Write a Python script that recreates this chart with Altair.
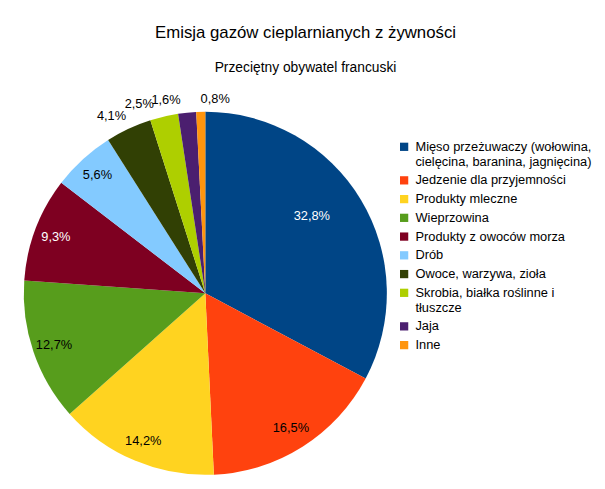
import altair as alt
import pandas as pd

categories = [
    "Mięso przeżuwaczy (wołowina,\ncielęcina, baranina, jagnięcina)",
    "Jedzenie dla przyjemności",
    "Produkty mleczne",
    "Wieprzowina",
    "Produkty z owoców morza",
    "Drób",
    "Owoce, warzywa, zioła",
    "Skrobia, białka roślinne i\ntłuszcze",
    "Jaja",
    "Inne",
]
values = [32.8, 16.5, 14.2, 12.7, 9.3, 5.6, 4.1, 2.5, 1.6, 0.8]
colors = ["#004586", "#ff420e", "#ffd320", "#579d1c", "#7e0021",
          "#83caff", "#314004", "#aecf00", "#4b1f6f", "#ff950e"]

df = pd.DataFrame({
    "cat": categories,
    "value": values,
    "idx": list(range(len(values))),
    "label": [f"{v:.1f}%".replace(".", ",") for v in values],
})

FONT = "Liberation Sans"

base = alt.Chart(df).encode(
    theta=alt.Theta("value:Q", stack=True),
    order=alt.Order("idx:Q", sort="ascending"),
)

pie = base.mark_arc(stroke=None).encode(
    color=alt.Color(
        "cat:N",
        sort=categories,
        scale=alt.Scale(domain=categories, range=colors),
        legend=alt.Legend(
            title=None,
            orient="none",
            legendX=379,
            legendY=29,
            symbolType="square",
            symbolSize=70,
            symbolStrokeWidth=0,
            labelFont=FONT,
            labelFontSize=13,
            labelColor="#000000",
            labelLimit=300,
            labelOffset=5,
            rowPadding=5,
            labelExpr="split(datum.label, '\\n')",
        ),
    )
)

# big slice label sits closer to the centre
inside_big = base.mark_text(radius=126, dy=-13, font=FONT, fontSize=13, color="#ffffff").encode(
    text=alt.Text("t:N"),
).transform_calculate(t="datum.idx == 0 ? datum.label : ''")

inside = base.mark_text(radius=162, font=FONT, fontSize=13).encode(
    text=alt.Text("t:N"),
    color=alt.condition(
        alt.FieldOneOfPredicate(field="idx", oneOf=[4]),
        alt.value("#ffffff"),
        alt.value("#000000"),
    ),
).transform_calculate(t="datum.value >= 5 && datum.idx != 0 ? datum.label : ''")

outside_left = base.mark_text(
    radius=190, font=FONT, fontSize=13, color="#000000", align="right", baseline="bottom"
).encode(
    text=alt.Text("t:N"),
).transform_calculate(t="datum.idx == 6 ? datum.label : ''")

outside_25 = base.mark_text(
    radius=190, dx=-9, font=FONT, fontSize=13, color="#000000", align="right", baseline="bottom"
).encode(
    text=alt.Text("t:N"),
).transform_calculate(t="datum.idx == 7 ? datum.label : ''")

outside_16 = base.mark_text(
    radius=190, dx=-6, font=FONT, fontSize=13, color="#000000", align="right", baseline="bottom"
).encode(
    text=alt.Text("t:N"),
).transform_calculate(t="datum.idx == 8 ? datum.label : ''")

outside_right = base.mark_text(
    radius=190, font=FONT, fontSize=13, color="#000000", align="left", baseline="bottom"
).encode(
    text=alt.Text("t:N"),
).transform_calculate(t="datum.idx == 9 ? datum.label : ''")

chart = alt.layer(
    pie, inside_big, inside, outside_left, outside_25, outside_16, outside_right
).properties(
    width=368,
    height=368,
    padding={"left": 11, "top": 13, "right": 5, "bottom": 0},
    title=alt.TitleParams(
        text="Emisja gazów cieplarnianych z żywności",
        subtitle="Przeciętny obywatel francuski",
        font=FONT,
        fontSize=17,
        fontWeight="normal",
        color="#000000",
        subtitleFont=FONT,
        subtitleFontSize=14,
        subtitleColor="#000000",
        subtitlePadding=20,
        anchor="middle",
        frame="bounds",
        offset=17,
    ),
).configure_view(stroke=None)

chart.save("out.html", embed_options={"renderer": "svg", "actions": False})
